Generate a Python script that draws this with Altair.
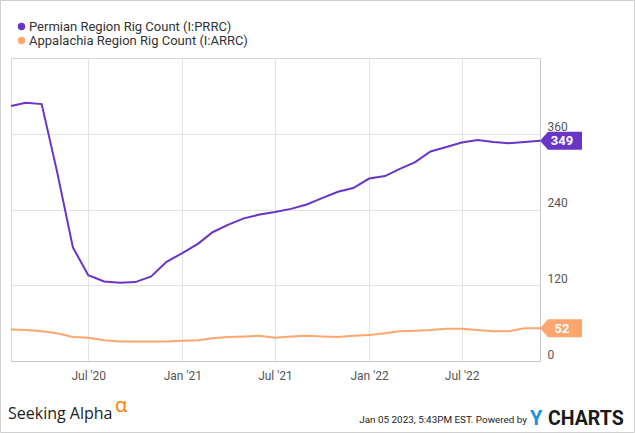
import altair as alt
import pandas as pd

months = [
    "2020-02-01", "2020-03-01", "2020-04-01", "2020-05-01", "2020-06-01", "2020-07-01",
    "2020-08-01", "2020-09-01", "2020-10-01", "2020-11-01", "2020-12-01",
    "2021-01-01", "2021-02-01", "2021-03-01", "2021-04-01", "2021-05-01", "2021-06-01",
    "2021-07-01", "2021-08-01", "2021-09-01", "2021-10-01", "2021-11-01", "2021-12-01",
    "2022-01-01", "2022-02-01", "2022-03-01", "2022-04-01", "2022-05-01", "2022-06-01",
    "2022-07-01", "2022-08-01", "2022-09-01", "2022-10-01", "2022-11-01", "2022-12-01",
]
permian = [404, 409, 407, 300, 180, 136, 126, 124, 125, 134, 157,
           171, 186, 204, 216, 226, 232, 236, 241, 248, 258, 268, 274,
           289, 293, 304, 315, 332, 339, 346, 350, 347, 345, 347, 349]
appalachia = [50, 49, 47, 44, 38, 37, 33, 31, 31, 31, 31,
              32, 33, 36, 38, 39, 40, 37, 39, 40, 39, 38, 40,
              41, 44, 47, 48, 49, 51, 51, 49, 47, 47, 52, 52]
series_names = ["Permian Region Rig Count (I:PRRC)", "Appalachia Region Rig Count (I:ARRC)"]
series_colors = ["#6a35c7", "#ffa66f"]
y_ticks = [0, 120, 240, 360]
x_ticks = [(2020, 7), (2021, 1), (2021, 7), (2022, 1), (2022, 7)]
footer_left = ["Seeking Alpha", "α"]
footer_right = ["Jan 05 2023, 5:43PM EST.  Powered by", "Y", "CHARTS"]

rows = []
for name, vals in zip(series_names, [permian, appalachia]):
    for d, v in zip(months, vals):
        rows.append({"date": d, "value": v, "series": name})
df = pd.DataFrame(rows)
last = pd.DataFrame({
    "date": [months[-1], months[-1]],
    "value": [permian[-1], appalachia[-1]],
    "series": series_names,
    "label": [str(permian[-1]), str(appalachia[-1])],
})

FONT = "Roboto"
xscale = alt.Scale(type="utc",
                   domain=[alt.DateTime(year=2020, month=2, date=1, utc=True),
                           alt.DateTime(year=2022, month=12, date=1, utc=True)])
yscale = alt.Scale(domain=[0, 480], nice=False)
cscale = alt.Scale(domain=series_names, range=series_colors)

x_enc = alt.X("date:T", scale=xscale, title=None,
              axis=alt.Axis(values=[alt.DateTime(year=y, month=m, date=1, utc=True) for y, m in x_ticks],
                            labelExpr="utcFormat(datum.value, \"%b '%y\")",
                            labelFont=FONT, labelFontSize=12,
                            labelColor="#555", labelPadding=9, tickSize=0, domainColor="#c8c8c8",
                            gridColor="#e3e3e3", grid=True))
y_enc = alt.Y("value:Q", scale=yscale, title=None,
              axis=alt.Axis(orient="right", values=y_ticks, labelFont=FONT, labelFontSize=12,
                            labelColor="#555", labelPadding=7, labelOffset=-7, tickSize=0,
                            domainColor="#c8c8c8", gridColor="#e3e3e3", grid=True))

lines = alt.Chart(df).mark_line(strokeWidth=2).encode(
    x=x_enc, y=y_enc,
    color=alt.Color("series:N", scale=cscale, sort=series_names,
                    legend=alt.Legend(orient="none", legendX=4, legendY=-38, title=None,
                                      symbolType="circle", symbolSize=55, labelFont=FONT,
                                      labelFontSize=13, labelColor="#333", rowPadding=0,
                                      labelOffset=1, labelLimit=0, symbolStrokeWidth=0)),
    detail="series:N",
)

tag_path = "M-1,0L-0.62,-0.43L1,-0.43L1,0.43L-0.62,0.43Z"
tags = alt.Chart(last).mark_point(shape=tag_path, filled=True, size=1764, opacity=1,
                                  xOffset=21, strokeWidth=0).encode(
    x=alt.X("date:T", scale=xscale), y=alt.Y("value:Q", scale=yscale),
    color=alt.Color("series:N", scale=cscale, legend=None),
)
tag_text = alt.Chart(last).mark_text(color="white", font=FONT, fontWeight="bold", fontSize=13,
                                     dx=22, dy=0.5, align="center", baseline="middle").encode(
    x=alt.X("date:T", scale=xscale), y=alt.Y("value:Q", scale=yscale), text="label:N",
)

one = pd.DataFrame({"k": [0]})
border = alt.Chart(one).mark_rect(fill=None, stroke="#d0d0d0", strokeWidth=1).encode(
    x=alt.value(-10.5), x2=alt.value(623.5), y=alt.value(-57.5), y2=alt.value(374.5))
sa = alt.Chart(one).mark_text(text=footer_left[0], font="Open Sans", fontSize=16, color="#222",
                              align="left", baseline="alphabetic").encode(
    x=alt.value(-3), y=alt.value(361))
alpha = alt.Chart(one).mark_text(text=footer_left[1], font="Open Sans", fontSize=20, color="#ff7a00",
                                 align="left", baseline="alphabetic").encode(
    x=alt.value(104), y=alt.value(354))
stamp = alt.Chart(one).mark_text(text=footer_right[0], font=FONT, fontSize=9.9,
                                 color="#222", align="right", baseline="alphabetic").encode(
    x=alt.value(516), y=alt.value(365))
ylogo = alt.Chart(one).mark_text(text=footer_right[1], font=FONT, fontWeight="bold", fontSize=20,
                                 color="#1e90e0", align="left", baseline="alphabetic").encode(
    x=alt.value(519), y=alt.value(367))
charts = alt.Chart(one).mark_text(text=footer_right[2], font=FONT, fontWeight="bold", fontSize=19.5,
                                  color="#1a1a1a", align="left", baseline="alphabetic").encode(
    x=alt.value(537), y=alt.value(367))

chart = alt.layer(lines, tags, tag_text, border, sa, alpha, stamp, ylogo, charts).properties(
    width=529, height=303,
    autosize=alt.AutoSizeParams(type="none"),
    padding={"left": 11, "top": 58, "right": 95, "bottom": 72},
    background="white",
).configure_view(stroke="#d8d8d8", strokeWidth=1)

chart.save("out.html", embed_options={"renderer": "svg", "actions": False})
